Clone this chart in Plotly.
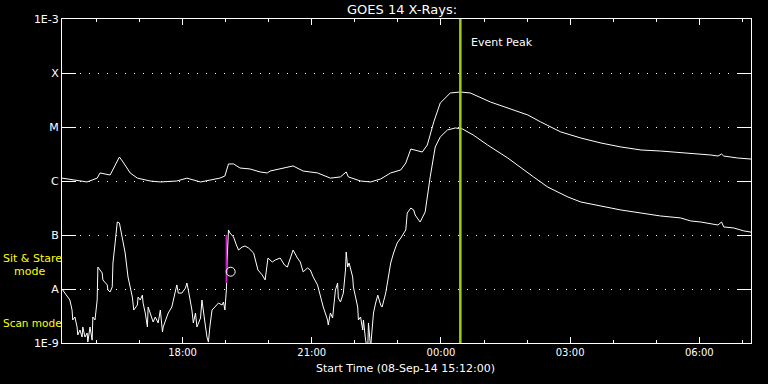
import datetime as dt
import plotly.graph_objects as go

# ---------------- data ----------------
start_time = dt.datetime(2014, 9, 8, 15, 12, 0)
end_minutes = 960
event_peak_minutes = 555

# GOES 14 long channel (1-8 A), minutes since start, flux W/m^2
long_minutes = [0, 15, 35, 49, 53, 67, 74, 80, 85, 95, 105, 123, 137, 160, 174, 193,
                220, 227, 232, 239, 248, 262, 276, 286, 290, 308, 322, 336, 356, 374,
                388, 396, 399, 416, 430, 444, 458, 472, 479, 486, 495, 502, 509, 518,
                527, 541, 555, 569, 597, 629, 649, 667, 695, 723, 751, 779, 807, 834,
                876, 904, 914, 919, 922, 941, 960]
long_flux = [1.13e-6, 1.04e-6, 9.6e-7, 1.13e-6, 1.41e-6, 1.29e-6, 1.98e-6, 2.78e-6,
             2.25e-6, 1.41e-6, 1.13e-6, 1.0e-6, 9.6e-7, 1.0e-6, 1.13e-6, 9.6e-7,
             1.13e-6, 1.24e-6, 2.07e-6, 2.07e-6, 1.74e-6, 1.67e-6, 1.47e-6, 1.41e-6,
             1.53e-6, 1.74e-6, 1.90e-6, 1.53e-6, 1.41e-6, 1.13e-6, 1.19e-6, 1.47e-6,
             1.19e-6, 1.0e-6, 9.6e-7, 1.09e-6, 1.41e-6, 1.60e-6, 2.15e-6, 3.91e-6,
             3.59e-6, 3.44e-6, 4.64e-6, 1.24e-5, 2.78e-5, 4.26e-5, 4.45e-5, 4.26e-5,
             2.90e-5, 2.07e-5, 1.67e-5, 1.24e-5, 8.1e-6, 6.25e-6, 5.05e-6, 4.26e-6,
             3.75e-6, 3.59e-6, 3.30e-6, 3.03e-6, 2.90e-6, 3.16e-6, 2.90e-6, 2.67e-6,
             2.55e-6]

# GOES 14 short channel (0.5-4 A)
short_minutes = [0, 1, 7, 11, 14, 15, 18, 21, 22, 25, 28, 29, 32, 35, 36, 39, 42, 43, 46,
                 49, 50, 56, 57, 63, 64, 67, 70, 71, 74, 77, 80, 84, 88, 92, 98, 100, 105,
                 106, 109, 112, 113, 116, 119, 120, 123, 127, 130, 134, 137, 140, 141, 144,
                 148, 153, 155, 160, 162, 167, 172, 174, 176, 181, 183, 186, 188, 193, 195,
                 197, 200, 202, 204, 206, 209, 213, 218, 223, 225, 227, 229, 230, 232, 234,
                 239, 243, 246, 251, 255, 260, 267, 273, 279, 283, 287, 293, 297, 304, 310,
                 314, 322, 328, 332, 336, 342, 346, 350, 356, 360, 364, 370, 371, 374, 377,
                 381, 384, 385, 388, 392, 395, 396, 398, 400, 405, 406, 412, 413, 416, 419,
                 420, 423, 426, 427, 430, 432, 434, 437, 440, 444, 446, 451, 455, 458, 462,
                 467, 472, 476, 479, 481, 486, 490, 492, 499, 506, 513, 520, 527, 537, 548,
                 558, 573, 593, 621, 643, 657, 677, 705, 723, 751, 779, 807, 834, 862, 876,
                 890, 904, 914, 919, 922, 936, 950, 960]
short_flux = [1.0e-8, 9.6e-9, 7.7e-9, 6.25e-9, 4.08e-9, 2.67e-9, 3.03e-9, 1.98e-9, 1.41e-9,
              1.74e-9, 1.29e-9, 1.98e-9, 1.29e-9, 1.53e-9, 1.04e-9, 1.98e-9, 1.13e-9,
              3.03e-9, 2.67e-9, 6.25e-9, 2.55e-8, 1.98e-8, 1.47e-8, 1.19e-8, 9.6e-9,
              8.8e-9, 1.09e-8, 3.03e-8, 7.1e-8, 1.74e-7, 1.67e-7, 9.2e-8, 4.64e-8, 1.67e-8,
              7.1e-9, 4.08e-9, 5.05e-9, 7.1e-9, 6.25e-9, 7.7e-9, 5.5e-9, 3.59e-9, 1.98e-9,
              4.64e-9, 3.59e-9, 2.45e-9, 3.03e-9, 2.35e-9, 4.08e-9, 1.60e-9, 1.98e-9,
              2.67e-9, 3.59e-9, 4.64e-9, 6.25e-9, 1.19e-8, 8.4e-9, 8.4e-9, 1.04e-8, 1.29e-8,
              9.6e-9, 4.08e-9, 2.35e-9, 3.59e-9, 1.98e-9, 2.90e-9, 6.25e-9, 3.59e-9,
              1.98e-9, 1.29e-9, 1.04e-9, 1.98e-9, 4.08e-9, 4.64e-9, 5.5e-9, 5.05e-9,
              5.74e-9, 4.08e-9, 9.6e-9, 3.44e-8, 1.24e-7, 1.09e-7, 9.2e-8, 6.53e-8, 5.27e-8,
              5.99e-8, 6.25e-8, 5.74e-8, 4.64e-8, 2.25e-8, 1.82e-8, 1.47e-8, 3.75e-8,
              3.16e-8, 3.44e-8, 3.75e-8, 2.78e-8, 2.55e-8, 5.27e-8, 3.75e-8, 3.16e-8,
              2.07e-8, 2.45e-8, 2.25e-8, 1.67e-8, 1.19e-8, 7.1e-9, 4.64e-9, 2.67e-9,
              2.15e-9, 3.59e-9, 2.90e-9, 9.6e-9, 1.29e-8, 6.81e-9, 5.74e-9, 8.4e-9, 2.25e-8,
              4.84e-8, 2.55e-8, 3.03e-8, 1.67e-8, 1.09e-8, 4.64e-9, 2.67e-9, 3.03e-9,
              1.74e-9, 2.67e-9, 1.13e-9, 7.4e-10, 2.35e-9, 8.1e-10, 1.74e-9, 3.59e-9,
              5.5e-9, 7.7e-9, 5.05e-9, 4.64e-9, 8.4e-9, 1.67e-8, 3.03e-8, 4.64e-8, 7.1e-8,
              8.8e-8, 1.09e-7, 1.24e-7, 2.55e-7, 3.16e-7, 2.90e-7, 2.35e-7, 1.74e-7,
              2.67e-7, 1.19e-6, 4.26e-6, 6.53e-6, 8.8e-6, 9.6e-6, 9.2e-6, 7.1e-6, 4.64e-6,
              2.67e-6, 1.60e-6, 1.19e-6, 7.7e-7, 5.05e-7, 4.08e-7, 3.44e-7, 2.90e-7,
              2.55e-7, 2.25e-7, 2.07e-7, 1.82e-7, 1.74e-7, 1.60e-7, 1.53e-7, 1.74e-7,
              1.41e-7, 1.35e-7, 1.19e-7, 1.13e-7]

# mode-change marker (magenta bar) and small circle on the short channel
mode_change_minutes = 229
mode_change_flux = [1.0e-7, 1.29e-8]
circle_minutes = 235
circle_flux = 2.09e-8

ytick_values = [1e-9, 1e-8, 1e-7, 1e-6, 1e-5, 1e-4, 1e-3]
ytick_labels = ["1E-9", "A", "B", "C", "M", "X", "1E-3"]

# ---------------- figure ----------------
def to_time(m):
    return start_time + dt.timedelta(minutes=m)

long_t = [to_time(m) for m in long_minutes]
short_t = [to_time(m) for m in short_minutes]
peak_t = to_time(event_peak_minutes)

fig = go.Figure()
fig.add_trace(go.Scatter(x=long_t, y=long_flux, mode="lines",
                         line=dict(color="white", width=1), showlegend=False,
                         hoverinfo="skip"))
fig.add_trace(go.Scatter(x=short_t, y=short_flux, mode="lines",
                         line=dict(color="white", width=1), showlegend=False,
                         hoverinfo="skip"))
fig.add_trace(go.Scatter(x=[to_time(mode_change_minutes)] * 2, y=mode_change_flux,
                         mode="lines", line=dict(color="#d020d0", width=1.5),
                         showlegend=False, hoverinfo="skip"))
fig.add_trace(go.Scatter(x=[to_time(circle_minutes)], y=[circle_flux], mode="markers",
                         marker=dict(symbol="circle-open", size=9,
                                     line=dict(color="white", width=1), color="white"),
                         showlegend=False, hoverinfo="skip"))

fig.add_shape(type="line", x0=peak_t, x1=peak_t, xref="x", yref="paper", y0=0, y1=1,
              line=dict(color="#9acd1a", width=2.5))

fig.update_layout(
    width=768, height=384,
    margin=dict(l=62, r=17, t=19, b=41),
    paper_bgcolor="black", plot_bgcolor="black",
    font=dict(family="DejaVu Sans", color="white", size=11),
    showlegend=False,
    hovermode=False,
    xaxis=dict(
        type="date",
        range=[start_time, to_time(end_minutes)],
        tickformat="%H:%M",
        tick0="2014-09-08 00:00:00",
        dtick=3 * 3600 * 1000,
        ticks="inside", ticklen=6, tickwidth=1, tickcolor="white",
        minor=dict(dtick=3600 * 1000, ticks="inside", ticklen=3, tickwidth=1,
                   tickcolor="white", showgrid=False),
        showline=True, linecolor="white", linewidth=1, mirror="ticks",
        showgrid=False, zeroline=False,
        tickfont=dict(size=10, color="white"),
    ),
    yaxis=dict(
        type="log",
        range=[-9, -3],
        tickvals=ytick_values, ticktext=ytick_labels,
        ticks="inside", ticklen=14, tickwidth=1, tickcolor="white",
        showline=True, linecolor="white", linewidth=1, mirror="ticks",
        showgrid=True, gridcolor="white", gridwidth=1, griddash="1px,8px",
        zeroline=False,
        tickfont=dict(size=11, color="white"),
    ),
)

fig.add_annotation(text="GOES 14 X-Rays:", xref="paper", yref="paper",
                   x=0.4935, y=1.028, xanchor="center", yanchor="middle",
                   showarrow=False, font=dict(size=13, color="white"))
fig.add_annotation(text="Start Time (08-Sep-14 15:12:00)", xref="paper", yref="paper",
                   x=0.498, y=-0.0793, xanchor="center", yanchor="middle",
                   showarrow=False, font=dict(size=11, color="white"))
fig.add_annotation(text="Event Peak", xref="x", yref="paper", x=peak_t, y=0.926,
                   xanchor="left", yanchor="middle", xshift=9, showarrow=False,
                   font=dict(size=11, color="white"))
fig.add_annotation(text="Sit & Stare", xref="paper", yref="paper", x=-0.0885, y=0.2610,
                   xanchor="left", yanchor="middle", showarrow=False,
                   font=dict(size=11, color="#ffff00"))
fig.add_annotation(text="mode", xref="paper", yref="paper", x=-0.0730, y=0.2200,
                   xanchor="left", yanchor="middle", showarrow=False,
                   font=dict(size=11, color="#ffff00"))
fig.add_annotation(text="Scan mode", xref="paper", yref="paper", x=-0.0885, y=0.0602,
                   xanchor="left", yanchor="middle", showarrow=False,
                   font=dict(size=10.5, color="#ffff00"))

fig.write_html("out.html",
               config={"displayModeBar": False},
               post_script="document.body.style.margin='0';"
                           "document.body.style.overflow='hidden';")
